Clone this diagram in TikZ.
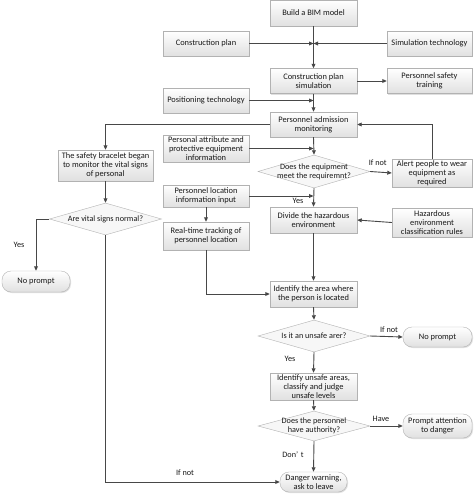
\documentclass[tikz,border=0pt]{standalone}
\usepackage{fontspec}
\setmainfont{Carlito}
\usetikzlibrary{arrows.meta,shapes.geometric,shadows}
\begin{document}
\begin{tikzpicture}[x=1pt,y=-1pt,
  font=\fontsize{8.4}{9}\selectfont,
  every node/.style={text=black!90},
  box/.style={draw=gray!60, top color=white, bottom color=gray!24, inner sep=0pt,
    align=center, drop shadow={opacity=0.25,shadow xshift=1pt,shadow yshift=-1pt}},
  term/.style={box, rounded corners=9pt},
  dia/.style={draw=gray!60, fill=gray!6, diamond, inner sep=0pt},
  conn/.style={draw=black!72, line width=0.9pt, -{Triangle[length=4.5pt,width=3.8pt]}},
  lbl/.style={font=\fontsize{8.2}{9}\selectfont}
]
\useasboundingbox[fill=white] (0,0) rectangle (474,495);

% boxes
\node[box, minimum width=87pt, minimum height=26pt] (bim) at (313.5,13) {Build a BIM model};
\node[box, minimum width=86pt, minimum height=25pt] (cplan) at (206,43.5) {Construction plan};
\node[box, minimum width=85pt, minimum height=25pt] (simtech) at (429.5,43.5) {Simulation technology};
\node[box, minimum width=87pt, minimum height=25pt] (cps) at (313.5,81) {Construction plan\\simulation};
\node[box, minimum width=85pt, minimum height=25pt] (pst) at (429.5,81) {Personnel safety\\training};
\node[box, minimum width=86pt, minimum height=25pt] (postech) at (206,100.5) {Positioning technology};
\node[box, minimum width=87pt, minimum height=25pt] (pam) at (313.5,124.5) {Personnel admission\\monitoring};
\node[box, minimum width=95pt, minimum height=31pt] (bracelet) at (105.5,165.5) {The safety bracelet began\\to monitor the vital signs\\of personal};
\node[box, minimum width=86pt, minimum height=27pt] (pattr) at (206,148.5) {Personal attribute and\\protective equipment\\information};
\node[dia, minimum width=112pt, minimum height=33pt,
  label={[align=center,lbl]center:Does the equipment\\meet the requiremnt?}] (eqd) at (314,171.5) {};
\node[box, minimum width=80pt, minimum height=28pt] (alert) at (432,173) {Alert people to wear\\equipment as\\required};
\node[box, minimum width=86pt, minimum height=22pt] (plii) at (206,196) {Personnel location\\information input};
\node[box, minimum width=87pt, minimum height=26pt] (divide) at (313.5,220) {Divide the hazardous\\environment};
\node[box, minimum width=80pt, minimum height=29pt] (hecr) at (432,222.5) {Hazardous\\environment\\classification rules};
\node[dia, minimum width=112pt, minimum height=32pt,
  label={[align=center,lbl]center:Are vital signs normal?}] (vital) at (105.5,219) {};
\node[box, minimum width=86pt, minimum height=28pt] (rtt) at (206,236) {Real-time tracking of\\personnel location};
\node[term, minimum width=68pt, minimum height=21pt] (np1) at (36,281.5) {No prompt};
\node[box, minimum width=87pt, minimum height=26pt] (area) at (313.5,294) {Identify the area where\\the person is located};
\node[dia, minimum width=112pt, minimum height=32pt,
  label={[align=center,lbl]center:Is it an unsafe arer?}] (unsafe) at (314,336) {};
\node[term, minimum width=69pt, minimum height=20pt] (np2) at (437.5,337) {No prompt};
\node[box, minimum width=87pt, minimum height=27pt] (iua) at (313.5,386.5) {Identify unsafe areas,\\classify and judge\\unsafe levels};
\node[dia, minimum width=112pt, minimum height=30pt,
  label={[align=center,lbl]center:Does the personnel\\have authority?}] (auth) at (314,426) {};
\node[term, minimum width=69pt, minimum height=24pt] (pad) at (437.5,426) {Prompt attention\\to danger};
\node[term, minimum width=67pt, minimum height=20pt] (danger) at (313.5,482) {Danger warning,\\ask to leave};

% junction coordinates
\coordinate (j1) at (313.5,43.5);
\coordinate (j2) at (313.5,100.5);
\coordinate (j3) at (313.5,148.5);
\coordinate (j4) at (313.5,196);
\coordinate (c1) at (105.5,124.5);
\coordinate (c2) at (432,124.5);
\coordinate (c3) at (206,294);
\coordinate (c4) at (36,219);
\coordinate (c5) at (105.5,482);

% connectors
\draw[conn] (bim.south) -- (cps.north);
\draw[conn] (cplan.east) -- (j1);
\draw[conn] (simtech.west) -- (j1);
\draw[conn] (cps.east) -- (pst.west);
\draw[conn] (cps.south) -- (pam.north);
\draw[conn] (postech.east) -- (j2);
\draw[conn] (pam.west) -- (c1) -- (bracelet.north);
\draw[conn] (pam.south) -- (eqd.north);
\draw[conn] (pattr.east) -- (j3);
\draw[conn] (eqd.east) -- node[lbl, above, pos=0.35, yshift=3pt] {If not} (alert.west);
\draw[conn] (alert.north) -- (c2) -- (pam.east);
\draw[conn] (eqd.south) -- (divide.north);
\node[lbl] (yes1) at (298,201) {Yes};
\draw[conn] (plii.east) -- (j4);
\draw[conn] (hecr.west) -- (divide.east);
\draw[conn] (plii.south) -- (rtt.north);
\draw[conn] (rtt.south) -- (c3) -- (area.west);
\draw[conn] (divide.south) -- (area.north);
\draw[conn] (bracelet.south) -- (vital.north);
\draw[conn] (vital.west) -- (c4) -- (np1.north);
\node[lbl] (yes2) at (19,245) {Yes};
\draw[conn] (vital.south) -- (c5) -- (danger.west);
\node[lbl] (ifnot3) at (185,473) {If not};
\draw[conn] (area.south) -- (unsafe.north);
\draw[conn] (unsafe.east) -- (np2.west);
\node[lbl] (ifnot2) at (389,330) {If not};
\draw[conn] (unsafe.south) -- (iua.north);
\node[lbl] (yes3) at (290,359) {Yes};
\draw[conn] (iua.south) -- (auth.north);
\draw[conn] (auth.east) -- (pad.west);
\node[lbl] (have) at (381,419) {Have};
\draw[conn] (auth.south) -- (danger.north);
\node[lbl] (dont) at (293,455) {Don’\,\,t};
\end{tikzpicture}
\end{document}
